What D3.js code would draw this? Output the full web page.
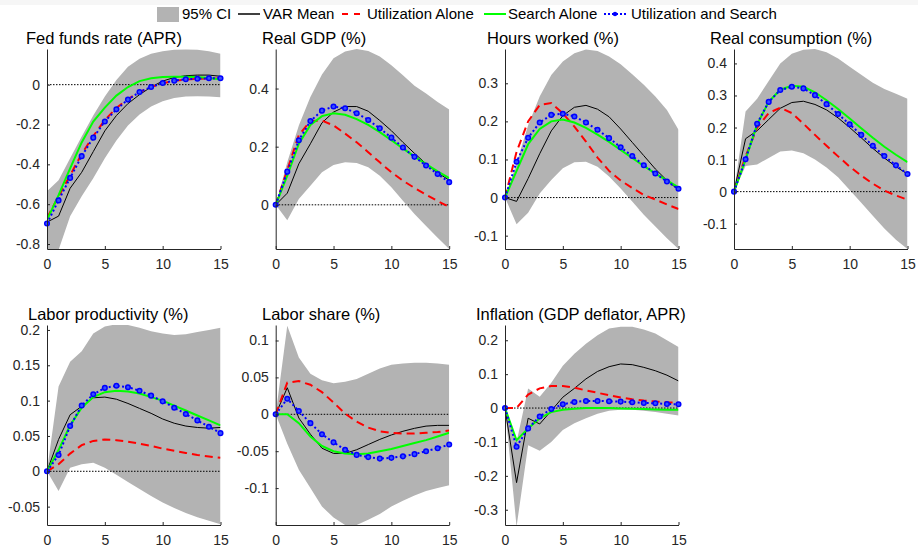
<!DOCTYPE html>
<html>
<head>
<meta charset="utf-8">
<script src="https://cdn.jsdelivr.net/npm/d3@7"></script>
<style>
body { margin: 0; background: #fff; }
text { font-family: "Liberation Sans", Arial, Helvetica, sans-serif; fill: #262626; }
</style>
</head>
<body>
<div id="chart"></div>
<script>
// quarters after the shock
var horizon = [0,1,2,3,4,5,6,7,8,9,10,11,12,13,14,15];

var titles = ["Fed funds rate (APR)", "Real GDP (%)", "Hours worked (%)", "Real consumption (%)",
              "Labor productivity (%)", "Labor share (%)", "Inflation (GDP deflator, APR)"];
var legendLabels = ["95% CI", "VAR Mean", "Utilization Alone", "Search Alone", "Utilization and Search"];
var xTicks = [0, 5, 10, 15];

/* y axis limits and ticks, one per panel */
var yDomains = [[-0.825, 0.179], [-0.152, 0.536], [-0.135, 0.39], [-0.179, 0.445],
                [-0.076, 0.207], [-0.15, 0.121], [-0.345, 0.245]];
var yTicks = [[-0.8, -0.6, -0.4, -0.2, 0], [0, 0.2, 0.4], [-0.1, 0, 0.1, 0.2, 0.3],
              [-0.1, 0, 0.1, 0.2, 0.3, 0.4], [-0.05, 0, 0.05, 0.1, 0.15, 0.2],
              [-0.1, -0.05, 0, 0.05, 0.1], [-0.3, -0.2, -0.1, 0, 0.1, 0.2]];

/* Fed funds rate */
var ffrMean   = [-0.69, -0.66, -0.52, -0.44, -0.336, -0.232, -0.155, -0.095, -0.05, -0.012, 0.018, 0.036, 0.045, 0.048, 0.048, 0.042];
var ffrUtil   = [-0.67, -0.56, -0.455, -0.348, -0.258, -0.178, -0.117, -0.072, -0.037, -0.012, 0.007, 0.019, 0.026, 0.029, 0.031, 0.031];
var ffrSearch = [-0.68, -0.555, -0.42, -0.29, -0.185, -0.115, -0.055, -0.012, 0.018, 0.032, 0.038, 0.04, 0.04, 0.038, 0.033, 0.026];
var ffrBoth   = [-0.697, -0.581, -0.468, -0.359, -0.266, -0.185, -0.124, -0.075, -0.037, -0.012, 0.008, 0.02, 0.027, 0.03, 0.032, 0.032];
var ffrHi     = [-0.535, -0.48, -0.37, -0.26, -0.155, -0.06, 0.023, 0.09, 0.13, 0.155, 0.168, 0.175, 0.177, 0.175, 0.168, 0.155];
var ffrLo     = [-0.83, -0.83, -0.66, -0.56, -0.47, -0.37, -0.28, -0.205, -0.15, -0.11, -0.083, -0.067, -0.06, -0.058, -0.06, -0.063];

/* Real GDP */
var gdpMean   = [0, 0.04, 0.141, 0.21, 0.282, 0.319, 0.338, 0.338, 0.322, 0.29, 0.255, 0.215, 0.177, 0.141, 0.11, 0.085];
var gdpUtil   = [0, 0.12, 0.24, 0.288, 0.29, 0.273, 0.245, 0.215, 0.181, 0.146, 0.112, 0.083, 0.058, 0.035, 0.013, -0.007];
var gdpSearch = [0, 0.1, 0.21, 0.275, 0.305, 0.315, 0.31, 0.295, 0.275, 0.25, 0.222, 0.194, 0.166, 0.14, 0.115, 0.092];
var gdpBoth   = [0, 0.114, 0.222, 0.288, 0.324, 0.338, 0.332, 0.315, 0.292, 0.263, 0.231, 0.197, 0.165, 0.135, 0.106, 0.078];
var gdpHi     = [0, 0.146, 0.273, 0.371, 0.448, 0.504, 0.527, 0.536, 0.529, 0.51, 0.48, 0.446, 0.41, 0.383, 0.354, 0.328];
var gdpLo     = [0, -0.053, 0.02, 0.066, 0.112, 0.137, 0.146, 0.144, 0.129, 0.1, 0.06, 0.014, -0.032, -0.073, -0.113, -0.152];

/* Hours worked */
var hrsMean   = [0, -0.01, 0.05, 0.115, 0.175, 0.215, 0.237, 0.242, 0.232, 0.212, 0.18, 0.145, 0.11, 0.075, 0.045, 0.02];
var hrsUtil   = [0, 0.12, 0.2, 0.243, 0.248, 0.221, 0.186, 0.147, 0.105, 0.07, 0.045, 0.025, 0.007, -0.005, -0.018, -0.03];
var hrsSearch = [0, 0.07, 0.14, 0.18, 0.2, 0.205, 0.197, 0.183, 0.165, 0.146, 0.125, 0.104, 0.083, 0.063, 0.045, 0.027];
var hrsBoth   = [0, 0.094, 0.157, 0.197, 0.217, 0.22, 0.213, 0.197, 0.178, 0.156, 0.132, 0.109, 0.085, 0.063, 0.042, 0.023];
var hrsHi     = [0, 0.09, 0.19, 0.265, 0.322, 0.357, 0.379, 0.389, 0.385, 0.37, 0.35, 0.324, 0.296, 0.265, 0.23, 0.178];
var hrsLo     = [0, -0.07, -0.04, 0.011, 0.046, 0.077, 0.093, 0.094, 0.081, 0.055, 0.024, -0.01, -0.045, -0.076, -0.107, -0.135];

/* Real consumption */
var conMean   = [0, 0.165, 0.19, 0.225, 0.26, 0.278, 0.282, 0.272, 0.255, 0.23, 0.2, 0.168, 0.135, 0.105, 0.078, 0.055];
var conUtil   = [0, 0.11, 0.2, 0.245, 0.262, 0.245, 0.212, 0.177, 0.143, 0.11, 0.078, 0.05, 0.025, 0.003, -0.012, -0.025];
var conSearch = [0, 0.1, 0.21, 0.28, 0.318, 0.33, 0.327, 0.31, 0.285, 0.258, 0.228, 0.198, 0.168, 0.14, 0.115, 0.092];
var conBoth   = [0, 0.101, 0.212, 0.28, 0.317, 0.327, 0.322, 0.301, 0.273, 0.242, 0.21, 0.177, 0.143, 0.111, 0.082, 0.055];
var conHi     = [0, 0.25, 0.29, 0.345, 0.4, 0.43, 0.443, 0.445, 0.435, 0.415, 0.39, 0.365, 0.34, 0.32, 0.305, 0.29];
var conLo     = [0, 0.08, 0.085, 0.105, 0.125, 0.128, 0.12, 0.1, 0.075, 0.045, 0.005, -0.035, -0.075, -0.115, -0.15, -0.179];

/* Labor productivity */
var lpMean   = [0, 0.045, 0.08, 0.092, 0.104, 0.105, 0.102, 0.096, 0.089, 0.082, 0.074, 0.068, 0.064, 0.062, 0.061, 0.062];
var lpUtil   = [0, 0.01, 0.025, 0.037, 0.043, 0.045, 0.044, 0.042, 0.039, 0.036, 0.032, 0.029, 0.026, 0.023, 0.021, 0.019];
var lpSearch = [0, 0.03, 0.065, 0.09, 0.105, 0.112, 0.114, 0.113, 0.11, 0.105, 0.1, 0.093, 0.086, 0.079, 0.072, 0.065];
var lpBoth   = [0, 0.023, 0.064, 0.093, 0.109, 0.118, 0.121, 0.119, 0.114, 0.107, 0.099, 0.09, 0.081, 0.072, 0.063, 0.054];
var lpHi     = [0, 0.12, 0.155, 0.17, 0.195, 0.205, 0.208, 0.207, 0.203, 0.198, 0.195, 0.193, 0.194, 0.197, 0.2, 0.203];
var lpLo     = [0, -0.028, 0.005, 0.01, 0.012, 0.005, -0.005, -0.015, -0.025, -0.035, -0.044, -0.052, -0.059, -0.065, -0.07, -0.075];

/* Labor share */
var lsMean   = [0, 0.036, -0.005, -0.027, -0.046, -0.053, -0.053, -0.048, -0.041, -0.034, -0.028, -0.023, -0.019, -0.016, -0.015, -0.015];
var lsUtil   = [0, 0.043, 0.045, 0.04, 0.03, 0.016, 0.001, -0.01, -0.018, -0.023, -0.025, -0.026, -0.026, -0.025, -0.024, -0.022];
var lsSearch = [0, 0, -0.012, -0.03, -0.043, -0.05, -0.053, -0.054, -0.053, -0.05, -0.047, -0.043, -0.039, -0.035, -0.03, -0.025];
var lsBoth   = [0, 0.021, 0.0045, -0.012, -0.027, -0.038, -0.048, -0.055, -0.058, -0.06, -0.059, -0.057, -0.054, -0.05, -0.046, -0.041];
var lsHi     = [0, 0.12, 0.077, 0.055, 0.046, 0.042, 0.044, 0.048, 0.055, 0.062, 0.067, 0.069, 0.07, 0.07, 0.069, 0.067];
var lsLo     = [0, -0.04, -0.075, -0.1, -0.125, -0.14, -0.15, -0.15, -0.143, -0.135, -0.125, -0.117, -0.11, -0.104, -0.1, -0.096];

/* Inflation */
var infMean   = [0, -0.22, -0.03, -0.047, -0.008, 0.032, 0.058, 0.086, 0.108, 0.122, 0.13, 0.128, 0.12, 0.11, 0.097, 0.08];
var infUtil   = [0, 0, 0.04, 0.058, 0.065, 0.065, 0.06, 0.052, 0.045, 0.038, 0.031, 0.026, 0.022, 0.019, 0.017, 0.016];
var infSearch = [0, -0.095, -0.06, -0.03, -0.012, -0.005, -0.002, 0, 0, 0, -0.001, -0.002, -0.003, -0.004, -0.005, -0.005];
var infBoth   = [0, -0.114, -0.06, -0.025, -0.003, 0.011, 0.018, 0.021, 0.021, 0.02, 0.019, 0.017, 0.015, 0.014, 0.012, 0.011];
var infHi     = [0, -0.1, 0.058, 0.033, 0.075, 0.125, 0.16, 0.19, 0.215, 0.235, 0.24, 0.24, 0.232, 0.22, 0.2, 0.18];
var infLo     = [0, -0.35, -0.11, -0.126, -0.1, -0.065, -0.045, -0.03, -0.017, -0.008, -0.005, -0.005, -0.008, -0.012, -0.017, -0.022];

var means   = [ffrMean, gdpMean, hrsMean, conMean, lpMean, lsMean, infMean];
var utils   = [ffrUtil, gdpUtil, hrsUtil, conUtil, lpUtil, lsUtil, infUtil];
var searchs = [ffrSearch, gdpSearch, hrsSearch, conSearch, lpSearch, lsSearch, infSearch];
var boths   = [ffrBoth, gdpBoth, hrsBoth, conBoth, lpBoth, lsBoth, infBoth];
var his     = [ffrHi, gdpHi, hrsHi, conHi, lpHi, lsHi, infHi];
var los     = [ffrLo, gdpLo, hrsLo, conLo, lpLo, lsLo, infLo];

/* layout */
var width = 918, height = 548;
var colLeft = [47, 275.7, 505, 734];
var rowTop = [49, 325];
var plotW = 173.5, plotH = 200;
var titleX = [26, 262, 487, 710, 28, 262, 476];
var axisColor = "#262626";
var ciColor = "#b3b3b3";

var svg = d3.select("#chart").append("svg")
  .attr("width", width)
  .attr("height", height);

svg.append("rect").attr("x", 0).attr("y", 0).attr("width", width).attr("height", 5).attr("fill", "#f6f6f6");

function fmt(v) { return String(Math.round(v * 1000) / 1000); }

titles.forEach(function(title, p) {
  var col = p % 4, row = Math.floor(p / 4);
  var g = svg.append("g")
    .attr("transform", `translate(${colLeft[col]}, ${rowTop[row]})`);

  var x = d3.scaleLinear().domain([0, 15]).range([0, plotW]);
  var y = d3.scaleLinear().domain(yDomains[p]).range([plotH, 0]);

  g.append("clipPath").attr("id", "clip" + p)
    .append("rect").attr("width", plotW).attr("height", plotH);

  var plot = g.append("g").attr("clip-path", `url(#clip${p})`);

  var lo = los[p];
  var area = d3.area()
    .x((d, i) => x(horizon[i]))
    .y0((d, i) => y(lo[i]))
    .y1(d => y(d));
  plot.append("path")
    .attr("d", area(his[p]))
    .attr("fill", ciColor);

  // zero line
  plot.append("line")
    .attr("x1", x(0)).attr("x2", x(15))
    .attr("y1", y(0)).attr("y2", y(0))
    .attr("stroke", "#000")
    .attr("stroke-width", 1)
    .attr("stroke-dasharray", "1.5,1.5");

  var line = d3.line()
    .x((d, i) => x(horizon[i]))
    .y(d => y(d));

  plot.append("path").attr("d", line(means[p]))
    .attr("fill", "none").attr("stroke", "#000").attr("stroke-width", 1);
  plot.append("path").attr("d", line(utils[p]))
    .attr("fill", "none").attr("stroke", "#ff0000").attr("stroke-width", 2)
    .attr("stroke-dasharray", "8,5");
  plot.append("path").attr("d", line(searchs[p]))
    .attr("fill", "none").attr("stroke", "#00ff00").attr("stroke-width", 2);
  plot.append("path").attr("d", line(boths[p]))
    .attr("fill", "none").attr("stroke", "#0000ff").attr("stroke-width", 2)
    .attr("stroke-dasharray", "2,2.5");

  g.append("g").selectAll("circle")
    .data(boths[p]).enter()
    .append("circle")
    .attr("cx", (d, i) => x(horizon[i]))
    .attr("cy", d => y(d))
    .attr("r", 2.3)
    .attr("fill", "#3550ff")
    .attr("stroke", "#0000ff")
    .attr("stroke-width", 1.5);

  /* axes */
  var yAxis = d3.axisLeft(y).tickValues(yTicks[p]).tickFormat(fmt)
    .tickSize(-3).tickSizeOuter(0).tickPadding(7);
  var xAxis = d3.axisBottom(x).tickValues(xTicks).tickFormat(fmt)
    .tickSize(-3).tickSizeOuter(0).tickPadding(10.5);

  var ya = g.append("g").call(yAxis);
  var xa = g.append("g").attr("transform", `translate(0, ${plotH})`).call(xAxis);
  [ya, xa].forEach(function(a) {
    a.selectAll("path, line").attr("stroke", axisColor);
    a.selectAll("text").attr("fill", axisColor).style("font-size", "14px")
      .style("font-family", '"Liberation Sans", Arial, sans-serif');
  });

  svg.append("text")
    .attr("x", titleX[p])
    .attr("y", rowTop[row] - 5)
    .style("font-size", "16.5px")
    .style("fill", "#000")
    .text(title);
});

/* legend */
var lg = svg.append("g").attr("class", "legend");
var legY = 14;
var legSwatchX = [157, 238, 342, 484, 604];
var legTextX = [182, 263, 367, 508, 631];

lg.append("rect").attr("x", legSwatchX[0]).attr("y", legY - 7).attr("width", 22).attr("height", 15)
  .attr("fill", ciColor);
lg.append("line").attr("x1", legSwatchX[1]).attr("x2", legSwatchX[1] + 22)
  .attr("y1", legY).attr("y2", legY).attr("stroke", "#000").attr("stroke-width", 1.5);
lg.append("line").attr("x1", legSwatchX[2]).attr("x2", legSwatchX[2] + 22)
  .attr("y1", legY).attr("y2", legY).attr("stroke", "#ff0000").attr("stroke-width", 2)
  .attr("stroke-dasharray", "6,6");
lg.append("line").attr("x1", legSwatchX[3]).attr("x2", legSwatchX[3] + 22)
  .attr("y1", legY).attr("y2", legY).attr("stroke", "#00ff00").attr("stroke-width", 2);
lg.append("line").attr("x1", legSwatchX[4]).attr("x2", legSwatchX[4] + 22)
  .attr("y1", legY).attr("y2", legY).attr("stroke", "#0000ff").attr("stroke-width", 2)
  .attr("stroke-dasharray", "2,2");
lg.append("circle").attr("cx", legSwatchX[4] + 11).attr("cy", legY).attr("r", 2.2)
  .attr("fill", "#0000ff");

legendLabels.forEach(function(lab, i) {
  lg.append("text")
    .attr("x", legTextX[i])
    .attr("y", legY + 5)
    .style("font-size", "15px")
    .style("fill", "#000")
    .text(lab);
});
</script>
</body>
</html>
